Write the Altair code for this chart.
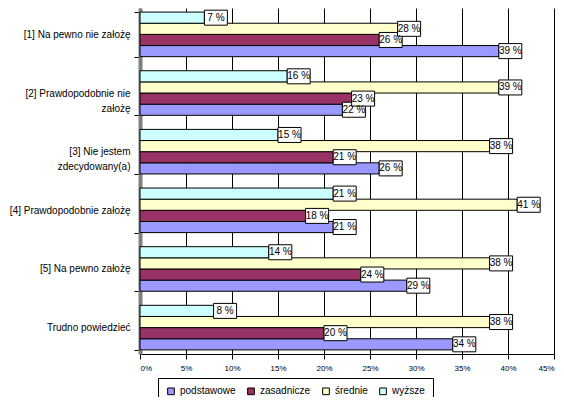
import altair as alt
import pandas as pd

categories = [
    "[1] Na pewno nie założę",
    "[2] Prawdopodobnie nie|założę",
    "[3] Nie jestem|zdecydowany(a)",
    "[4] Prawdopodobnie założę",
    "[5] Na pewno założę",
    "Trudno powiedzieć",
]
series = ["podstawowe", "zasadnicze", "średnie", "wyższe"]
podstawowe = [39, 22, 26, 21, 29, 34]
zasadnicze = [26, 23, 21, 18, 24, 20]
srednie = [28, 39, 38, 41, 38, 38]
wyzsze = [7, 16, 15, 21, 14, 8]
colors = ["#9999FF", "#993366", "#FFFFCC", "#CCFFFF"]
x_ticks = [0, 5, 10, 15, 20, 25, 30, 35, 40, 45]

rows = []
for name, vals in zip(series, [podstawowe, zasadnicze, srednie, wyzsze]):
    for c, v in zip(categories, vals):
        rows.append({"kat": c, "grupa": name, "val": v, "lab": f"{v} %"})
df = pd.DataFrame(rows)

FONT = "Liberation Sans"
offset_order = ["wyższe", "średnie", "zasadnicze", "podstawowe"]

x = alt.X("val:Q", scale=alt.Scale(domain=[0, 45], nice=False, zero=True),
          axis=alt.Axis(values=x_ticks, labelExpr="datum.value + '%'", title=None,
                        grid=True, gridColor="black", gridWidth=1, gridOpacity=1,
                        domainColor="black", tickColor="black", tickSize=5,
                        labelFont=FONT, labelFontSize=8, labelColor="black",
                        labelPadding=5))
y = alt.Y("kat:N", sort=categories,
          scale=alt.Scale(paddingInner=0.24, paddingOuter=0.07),
          axis=alt.Axis(title=None, labelExpr="split(datum.label, '|')",
                        tickBand="extent", tickColor="black", tickSize=6,
                        domainColor="#808080", domainWidth=4,
                        labelFont=FONT, labelFontSize=10, labelColor="black",
                        labelPadding=4, labelLimit=200, labelLineHeight=15))
yo = alt.YOffset("grupa:N", sort=offset_order)

bars = alt.Chart(df).mark_bar(stroke="black", strokeWidth=1).encode(
    x=x, y=y, yOffset=yo,
    color=alt.Color("grupa:N", sort=series,
                    scale=alt.Scale(domain=series, range=colors),
                    legend=alt.Legend(title=None, orient="none", legendX=18, legendY=370,
                                      direction="horizontal", symbolType="square",
                                      symbolStrokeColor="black", symbolStrokeWidth=1,
                                      symbolSize=45, labelFont=FONT, labelFontSize=10,
                                      labelColor="black", strokeColor="black",
                                      padding=8, columnPadding=9, fillColor="white")),
)

boxes = alt.Chart(df).mark_point(
    shape="M0,-0.75H2.3V0.75H0Z", size=400, filled=True, fill="white",
    stroke="black", strokeWidth=1, opacity=1,
).encode(x="val:Q", y=alt.Y("kat:N", sort=categories), yOffset=yo)

texts = alt.Chart(df).mark_text(
    font=FONT, fontSize=10, color="black", dx=11.5, align="center", baseline="middle",
).encode(x="val:Q", y=alt.Y("kat:N", sort=categories), yOffset=yo, text="lab:N")

chart = alt.layer(bars, boxes, texts).properties(
    width=414, height=346,
    autosize=alt.AutoSizeParams(type="none"),
    padding={"left": 132, "top": 0, "right": 2, "bottom": 43},
    background="white",
).configure_view(stroke=None)

chart.save("out.html", embed_options={"renderer": "svg", "actions": False})
